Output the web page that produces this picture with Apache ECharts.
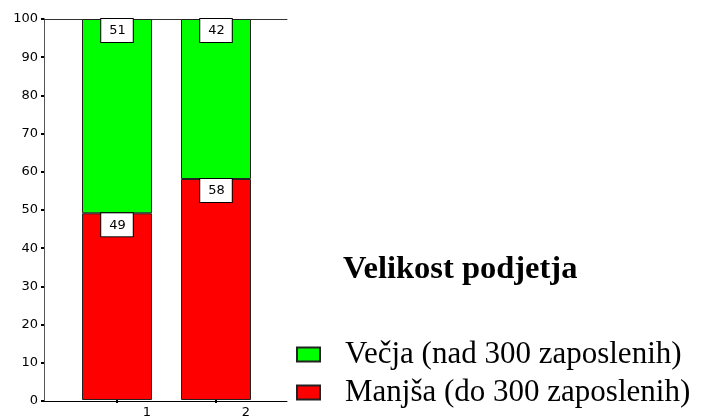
<!DOCTYPE html>
<html>
<head>
<meta charset="utf-8">
<script src="https://cdn.jsdelivr.net/npm/echarts@6/dist/echarts.min.js"></script>
<style>
  html, body { margin: 0; padding: 0; background: #fff; }
  #chart { width: 701px; height: 419px; }
</style>
</head>
<body>
<div id="chart"></div>
<script>
// Share of companies by size, per group (percent)
const groups = ['1', '2'];
const smallCompanies = [49, 58];   // Manjša (do 300 zaposlenih)
const largeCompanies = [51, 42];   // Večja (nad 300 zaposlenih)
const seriesNames = ['Manjša (do 300 zaposlenih)', 'Večja (nad 300 zaposlenih)'];
const legendTitle = 'Velikost podjetja';

const chart = echarts.init(document.getElementById('chart'), null, { renderer: 'canvas' });

const numFont = 'DejaVu Sans';
const serif = 'Liberation Serif';

function valueLabel() {
  return {
    show: true,
    position: 'insideTop',
    distance: 0,
    fontFamily: numFont,
    fontSize: 13,
    color: '#000',
    backgroundColor: '#fff',
    borderColor: '#000',
    borderWidth: 1,
    padding: [4, 7, 3, 8],
    lineHeight: 16
  };
}

const hiddenAxis = {
  axisLine: { show: false }, axisTick: { show: false },
  axisLabel: { show: false }, splitLine: { show: false }
};

const option = {
  animation: false,
  backgroundColor: '#fff',
  title: {
    text: legendTitle,
    left: 338,
    top: 248,
    textStyle: { fontFamily: serif, fontWeight: 'bold', fontSize: 32.5, color: '#000' }
  },
  legend: {
    orient: 'vertical',
    left: 291,
    top: 334,
    icon: 'rect',
    itemWidth: 23,
    itemHeight: 14,
    itemGap: 7,
    data: [seriesNames[1], seriesNames[0]],
    textStyle: { fontFamily: serif, fontSize: 31, color: '#000', padding: [0, 0, 0, 20] }
  },
  grid: [
    // plot frame with the percentage scale
    { left: 44, right: 414, top: 19, bottom: 18 },
    // bar placement area
    { left: 67.5, right: 435.5, top: 19, bottom: 18 }
  ],
  xAxis: [
    {
      gridIndex: 0, type: 'value', min: 0, max: 1,
      splitLine: { show: false }, axisTick: { show: false }, axisLabel: { show: false },
      axisLine: { show: true, onZero: false, lineStyle: { color: '#000', width: 1 } }
    },
    {
      gridIndex: 0, type: 'value', position: 'top', min: 0, max: 1,
      splitLine: { show: false }, axisTick: { show: false }, axisLabel: { show: false },
      axisLine: { show: true, onZero: false, lineStyle: { color: '#333', width: 1 } }
    },
    {
      gridIndex: 1, type: 'category', data: groups,
      axisLine: { show: false },
      axisTick: { show: true, alignWithLabel: true, length: 3, lineStyle: { color: '#000', width: 2 } },
      axisLabel: {
        fontFamily: numFont, fontSize: 13, color: '#000',
        margin: 6,
        padding: [0, 0, 0, 60]
      },
      splitLine: { show: false }
    }
  ],
  yAxis: [
    {
      gridIndex: 0, type: 'value', min: 0, max: 100, interval: 10,
      splitLine: { show: false },
      axisLine: { show: true, lineStyle: { color: '#000', width: 1 } },
      axisTick: { show: true, length: 3, lineStyle: { color: '#000', width: 2 } },
      axisLabel: { fontFamily: numFont, fontSize: 13, color: '#000', margin: 6 }
    },
    Object.assign({
      gridIndex: 0, type: 'value', position: 'right', min: 0, max: 100
    }, hiddenAxis, { axisLine: { show: true, lineStyle: { color: '#555', width: 1 } } }),
    Object.assign({ gridIndex: 1, type: 'value', min: 0, max: 100 }, hiddenAxis)
  ],
  series: [
    {
      name: seriesNames[0],
      type: 'bar',
      xAxisIndex: 2,
      yAxisIndex: 2,
      stack: 'share',
      barWidth: 70,
      data: smallCompanies,
      itemStyle: { color: '#ff0000', borderColor: '#222', borderWidth: 1 },
      label: valueLabel()
    },
    {
      name: seriesNames[1],
      type: 'bar',
      xAxisIndex: 2,
      yAxisIndex: 2,
      stack: 'share',
      barWidth: 70,
      data: largeCompanies,
      itemStyle: { color: '#00ff00', borderColor: '#222', borderWidth: 1 },
      label: valueLabel()
    }
  ]
};

chart.setOption(option);
</script>
</body>
</html>
